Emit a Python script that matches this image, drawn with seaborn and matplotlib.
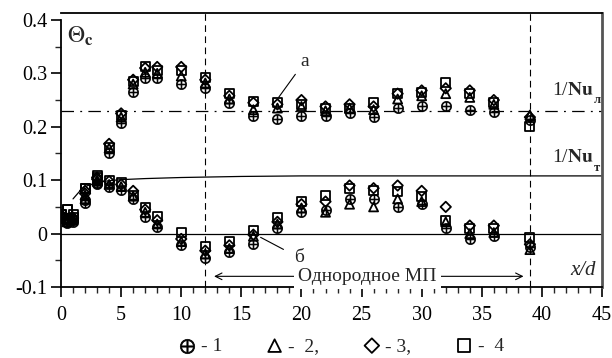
import numpy as np
import pandas as pd
import matplotlib
matplotlib.use('Agg')
import matplotlib.pyplot as plt
import seaborn as sns

sns.set_theme(style='white')
plt.rcParams['font.family'] = ['Liberation Serif', 'DejaVu Serif']
plt.rcParams['mathtext.fontset'] = 'stix'

# x/d positions of the measurements
x_pts = [0, 0.5, 1, 2, 3, 4, 5, 6, 7, 8, 10, 12, 14, 16, 18, 20, 22, 24, 26, 28, 30, 32, 34, 36, 39]

# group "a" (upper branch)
a_1 = [0.030, 0.022, 0.025, 0.062, 0.095, 0.150, 0.207, 0.265, 0.292, 0.292, 0.280, 0.272, 0.245, 0.220, 0.215, 0.220, 0.220, 0.225, 0.218, 0.235, 0.238, 0.238, 0.232, 0.228, 0.212]
a_2 = [0.032, 0.025, 0.028, 0.072, 0.100, 0.160, 0.218, 0.280, 0.302, 0.300, 0.295, 0.282, 0.252, 0.232, 0.235, 0.238, 0.230, 0.235, 0.232, 0.252, 0.258, 0.262, 0.255, 0.242, 0.222]
a_3 = [0.035, 0.028, 0.030, 0.080, 0.105, 0.168, 0.225, 0.288, 0.310, 0.312, 0.312, 0.288, 0.258, 0.245, 0.242, 0.250, 0.238, 0.242, 0.238, 0.262, 0.268, 0.272, 0.268, 0.250, 0.218]
a_4 = [0.035, 0.045, 0.035, 0.085, 0.108, 0.162, 0.222, 0.285, 0.312, 0.305, 0.305, 0.292, 0.262, 0.248, 0.245, 0.242, 0.235, 0.235, 0.245, 0.262, 0.265, 0.282, 0.262, 0.245, 0.200]

# group "б" (lower branch)
b_1 = [0.030, 0.020, 0.022, 0.058, 0.092, 0.088, 0.082, 0.065, 0.032, 0.012, -0.022, -0.045, -0.035, -0.020, 0.010, 0.040, 0.045, 0.065, 0.065, 0.050, 0.055, 0.010, -0.010, -0.005, -0.025]
b_2 = [0.032, 0.022, 0.025, 0.065, 0.098, 0.092, 0.088, 0.070, 0.040, 0.018, -0.015, -0.038, -0.028, -0.005, 0.018, 0.048, 0.040, 0.055, 0.050, 0.065, 0.060, 0.022, 0.000, 0.002, -0.030]
b_3 = [0.035, 0.025, 0.028, 0.075, 0.102, 0.098, 0.092, 0.080, 0.045, 0.025, -0.010, -0.032, -0.022, -0.002, 0.022, 0.055, 0.060, 0.090, 0.085, 0.090, 0.080, 0.050, 0.015, 0.015, -0.020]
b_4 = [0.035, 0.045, 0.030, 0.085, 0.105, 0.100, 0.095, 0.072, 0.048, 0.032, 0.002, -0.025, -0.015, 0.005, 0.030, 0.060, 0.072, 0.085, 0.080, 0.078, 0.070, 0.025, 0.010, 0.010, -0.008]

# 1/Nu_t reference curve
curve_x = [1.0, 1.5, 2, 3, 4, 5, 7, 10, 15, 20, 30, 45]
curve_y = [0.065, 0.078, 0.088, 0.096, 0.099, 0.101, 0.103, 0.105, 0.107, 0.108, 0.108, 0.108]
nu_lam = 0.23

rows = []
for grp, series in [('a', [a_1, a_2, a_3, a_4]), ('b', [b_1, b_2, b_3, b_4])]:
    for k, vals in enumerate(series):
        for xx, yy in zip(x_pts, vals):
            rows.append({'x': xx, 'theta': yy, 'series': k + 1, 'group': grp})
df = pd.DataFrame(rows)

fig = plt.figure(figsize=(6.12, 3.58), dpi=100)
ax = fig.add_axes([0.0997, 0.1983, 0.884, 0.7654])

# reference lines
ax.axhline(0, color='black', lw=0.9, zorder=1)
ax.axhline(nu_lam, color='black', lw=0.9, dashes=(10, 5, 1.5, 5), zorder=1)
sns.lineplot(x=curve_x, y=curve_y, color='black', lw=0.9, ax=ax, zorder=1)
for xv in [12, 39]:
    ax.axvline(xv, color='black', lw=0.8, dashes=(6, 4), zorder=1)

styles = {
    1: dict(marker=r'$\oplus$', s=55, color='black', edgecolor='black', linewidth=0.5),
    2: dict(marker='^', s=42, facecolor='none', edgecolor='black', linewidth=1.3),
    3: dict(marker='D', s=28, facecolor='none', edgecolor='black', linewidth=1.3),
    4: dict(marker='s', s=42, facecolor='none', edgecolor='black', linewidth=1.3),
}
labels = {1: '- 1', 2: '-  2,', 3: '- 3,', 4: '-  4'}
for k in [1, 2, 3, 4]:
    sub = df[df['series'] == k]
    sns.scatterplot(data=sub, x='x', y='theta', ax=ax, label=labels[k], zorder=3, **styles[k])

ax.set_xlim(0, 45)
ax.set_ylim(-0.1, 0.413)
ax.set_xticks(np.arange(0, 46, 5))
ax.set_xticks(np.arange(0, 46, 1), minor=True)
ax.set_yticks([-0.1, 0, 0.1, 0.2, 0.3, 0.4])
ax.set_yticklabels(['-0.1', '0', '0.1', '0.2', '0.3', '0.4'])
ax.set_yticks(np.arange(-0.05, 0.4, 0.1), minor=True)
ax.tick_params(axis='both', which='major', direction='out', length=7, width=1.2,
               labelsize=14.5, colors='black', bottom=True, left=True)
ax.tick_params(axis='both', which='minor', direction='out', length=4, width=1.0,
               bottom=True, left=True)
ax.tick_params(axis='x', which='major', pad=7)
ax.tick_params(axis='y', which='major', pad=3)
ax.set_xlabel('')
ax.set_ylabel('')
ax.grid(False)

for side in ['left', 'bottom', 'top']:
    ax.spines[side].set_color('black')
    ax.spines[side].set_linewidth(1.3)
ax.spines['left'].set_bounds(-0.1, 0.4)
ax.spines['right'].set_color('#555555')
ax.spines['right'].set_linewidth(2.0)

# texts
ax.text(0.5, 0.37, r'$\Theta_\mathbf{c}$', fontsize=17, va='center', ha='left')
for yy, sub_lbl in [(0.268, 'л'), (0.142, 'т')]:
    t = ax.text(40.8, yy, r'1/$\mathbf{Nu}$', fontsize=14, va='center', ha='left')
    ax.annotate(sub_lbl, xy=(1, 0), xycoords=t, xytext=(0.5, -1), textcoords='offset points',
                fontsize=9, fontweight='bold', ha='left', va='center')
ax.text(43.4, -0.07, 'x/d', fontsize=15, style='italic', va='center', ha='center')

ax.annotate('а', xy=(18.1, 0.255), xytext=(19.9, 0.322), fontsize=14,
            ha='left', va='center', arrowprops=dict(arrowstyle='-', color='black', lw=0.8, shrinkA=2, shrinkB=0))
ax.annotate('б', xy=(16.6, -0.007), xytext=(19.8, -0.045), fontsize=14,
            ha='center', va='center', arrowprops=dict(arrowstyle='-', color='black', lw=0.8, shrinkA=6, shrinkB=0))

ax.annotate('', xy=(12.5, -0.08), xytext=(25.5, -0.08),
            arrowprops=dict(arrowstyle='->', color='black', lw=0.8))
ax.annotate('', xy=(38.7, -0.08), xytext=(25.5, -0.08),
            arrowprops=dict(arrowstyle='->', color='black', lw=0.8))
ax.text(25.5, -0.08, 'Однородное МП', fontsize=14, ha='center', va='center',
        bbox=dict(facecolor='white', edgecolor='none', pad=3))

leg = ax.legend(loc='center', bbox_to_anchor=(0.515, -0.215), ncol=4, frameon=False,
                fontsize=14, handletextpad=0.1, columnspacing=2.1, markerscale=1.4,
                handlelength=1.2)

fig.savefig('out.png', dpi=100)
